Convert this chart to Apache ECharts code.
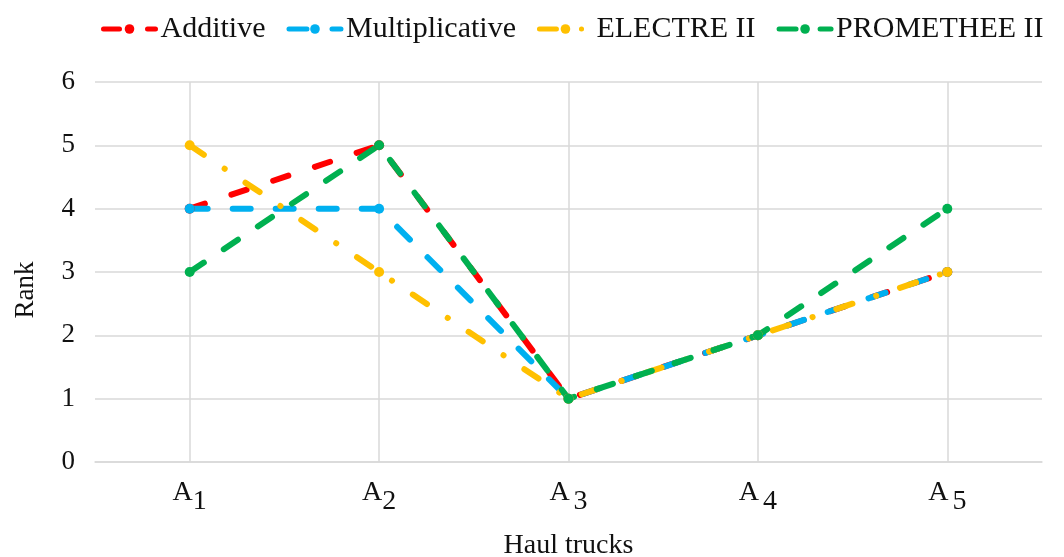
<!DOCTYPE html>
<html>
<head>
<meta charset="utf-8">
<script src="https://cdn.jsdelivr.net/npm/echarts@6/dist/echarts.min.js"></script>
<style>
  html, body { margin: 0; padding: 0; background: #fff; }
  #chart { width: 1064px; height: 557px; }
</style>
</head>
<body>
<div id="chart"></div>
<script>
// 各方案排名 折线图
var categories = ['A1', 'A2', 'A3', 'A4', 'A5'];
var additive = [4, 5, 1, 2, 3];
var multiplicative = [4, 4, 1, 2, 3];
var electre = [5, 3, 1, 2, 3];
var promethee = [3, 5, 1, 2, 4];
var yTicks = [0, 1, 2, 3, 4, 5, 6];

var FONT = '"Liberation Serif", "DejaVu Serif", serif';
var myChart = echarts.init(document.getElementById('chart'));

function makeSeries(name, data, color, dash) {
    return {
        name: name,
        type: 'line',
        data: data,
        symbol: 'circle',
        symbolSize: 10,
        itemStyle: { color: color, borderWidth: 0 },
        lineStyle: { color: color, width: 6, type: dash, cap: 'round' },
        emphasis: { disabled: true },
        animation: false
    };
}

var option = {
    backgroundColor: '#fff',
    textStyle: { fontFamily: FONT },
    legend: {
        top: 9,
        left: 96,
        width: 968,
        itemWidth: 52,
        itemHeight: 12,
        itemGap: 21,
        lineStyle: { width: 5, cap: 'round' },
        textStyle: { fontFamily: FONT, fontSize: 30, color: '#111' },
        data: ['Additive', 'Multiplicative', 'ELECTRE II', 'PROMETHEE II']
    },
    grid: { left: 95, right: 22, top: 82, bottom: 95, containLabel: false, outerBoundsMode: 'none' },
    xAxis: {
        type: 'category',
        data: categories,
        boundaryGap: true,
        name: 'Haul trucks',
        nameLocation: 'middle',
        nameGap: 70,
        nameTextStyle: { fontFamily: FONT, fontSize: 28, color: '#111' },
        axisLine: { show: true, lineStyle: { color: '#d9d9d9', width: 1.5 } },
        axisTick: { show: false },
        splitLine: { show: true, alignWithLabel: true, lineStyle: { color: '#d9d9d9', width: 1.5 } },
        axisLabel: {
            margin: 17,
            formatter: function (v, i) {
                return '{a|' + v.charAt(0) + '}{' + (i >= 2 ? 'g' : 's') + '|' + v.slice(1) + '}';
            },
            rich: {
                a: { fontFamily: FONT, fontSize: 28, color: '#111', verticalAlign: 'top', lineHeight: 28 },
                s: { fontFamily: FONT, fontSize: 28, color: '#111', lineHeight: 46 },
                g: { fontFamily: FONT, fontSize: 28, color: '#111', lineHeight: 46, padding: [0, 0, 0, 4] }
            }
        }
    },
    yAxis: {
        type: 'value',
        min: yTicks[0],
        max: yTicks[yTicks.length - 1],
        interval: 1,
        name: 'Rank',
        nameLocation: 'middle',
        nameGap: 56,
        nameRotate: 90,
        nameTextStyle: { fontFamily: FONT, fontSize: 27, color: '#111', padding: [0, 36, 0, 0] },
        axisLine: { show: false },
        axisTick: { show: false },
        splitLine: { lineStyle: { color: '#d9d9d9', width: 1.5 } },
        axisLabel: { margin: 20, fontFamily: FONT, fontSize: 27, color: '#111' }
    },
    series: [
        makeSeries('Additive', additive, '#FF0000', [16, 28]),
        makeSeries('Multiplicative', multiplicative, '#00B0F0', [18, 25]),
        makeSeries('ELECTRE II', electre, '#FFC000', [17, 25, 0.1, 25]),
        makeSeries('PROMETHEE II', promethee, '#00B050', [17, 24])
    ]
};
myChart.setOption(option);
</script>
</body>
</html>
